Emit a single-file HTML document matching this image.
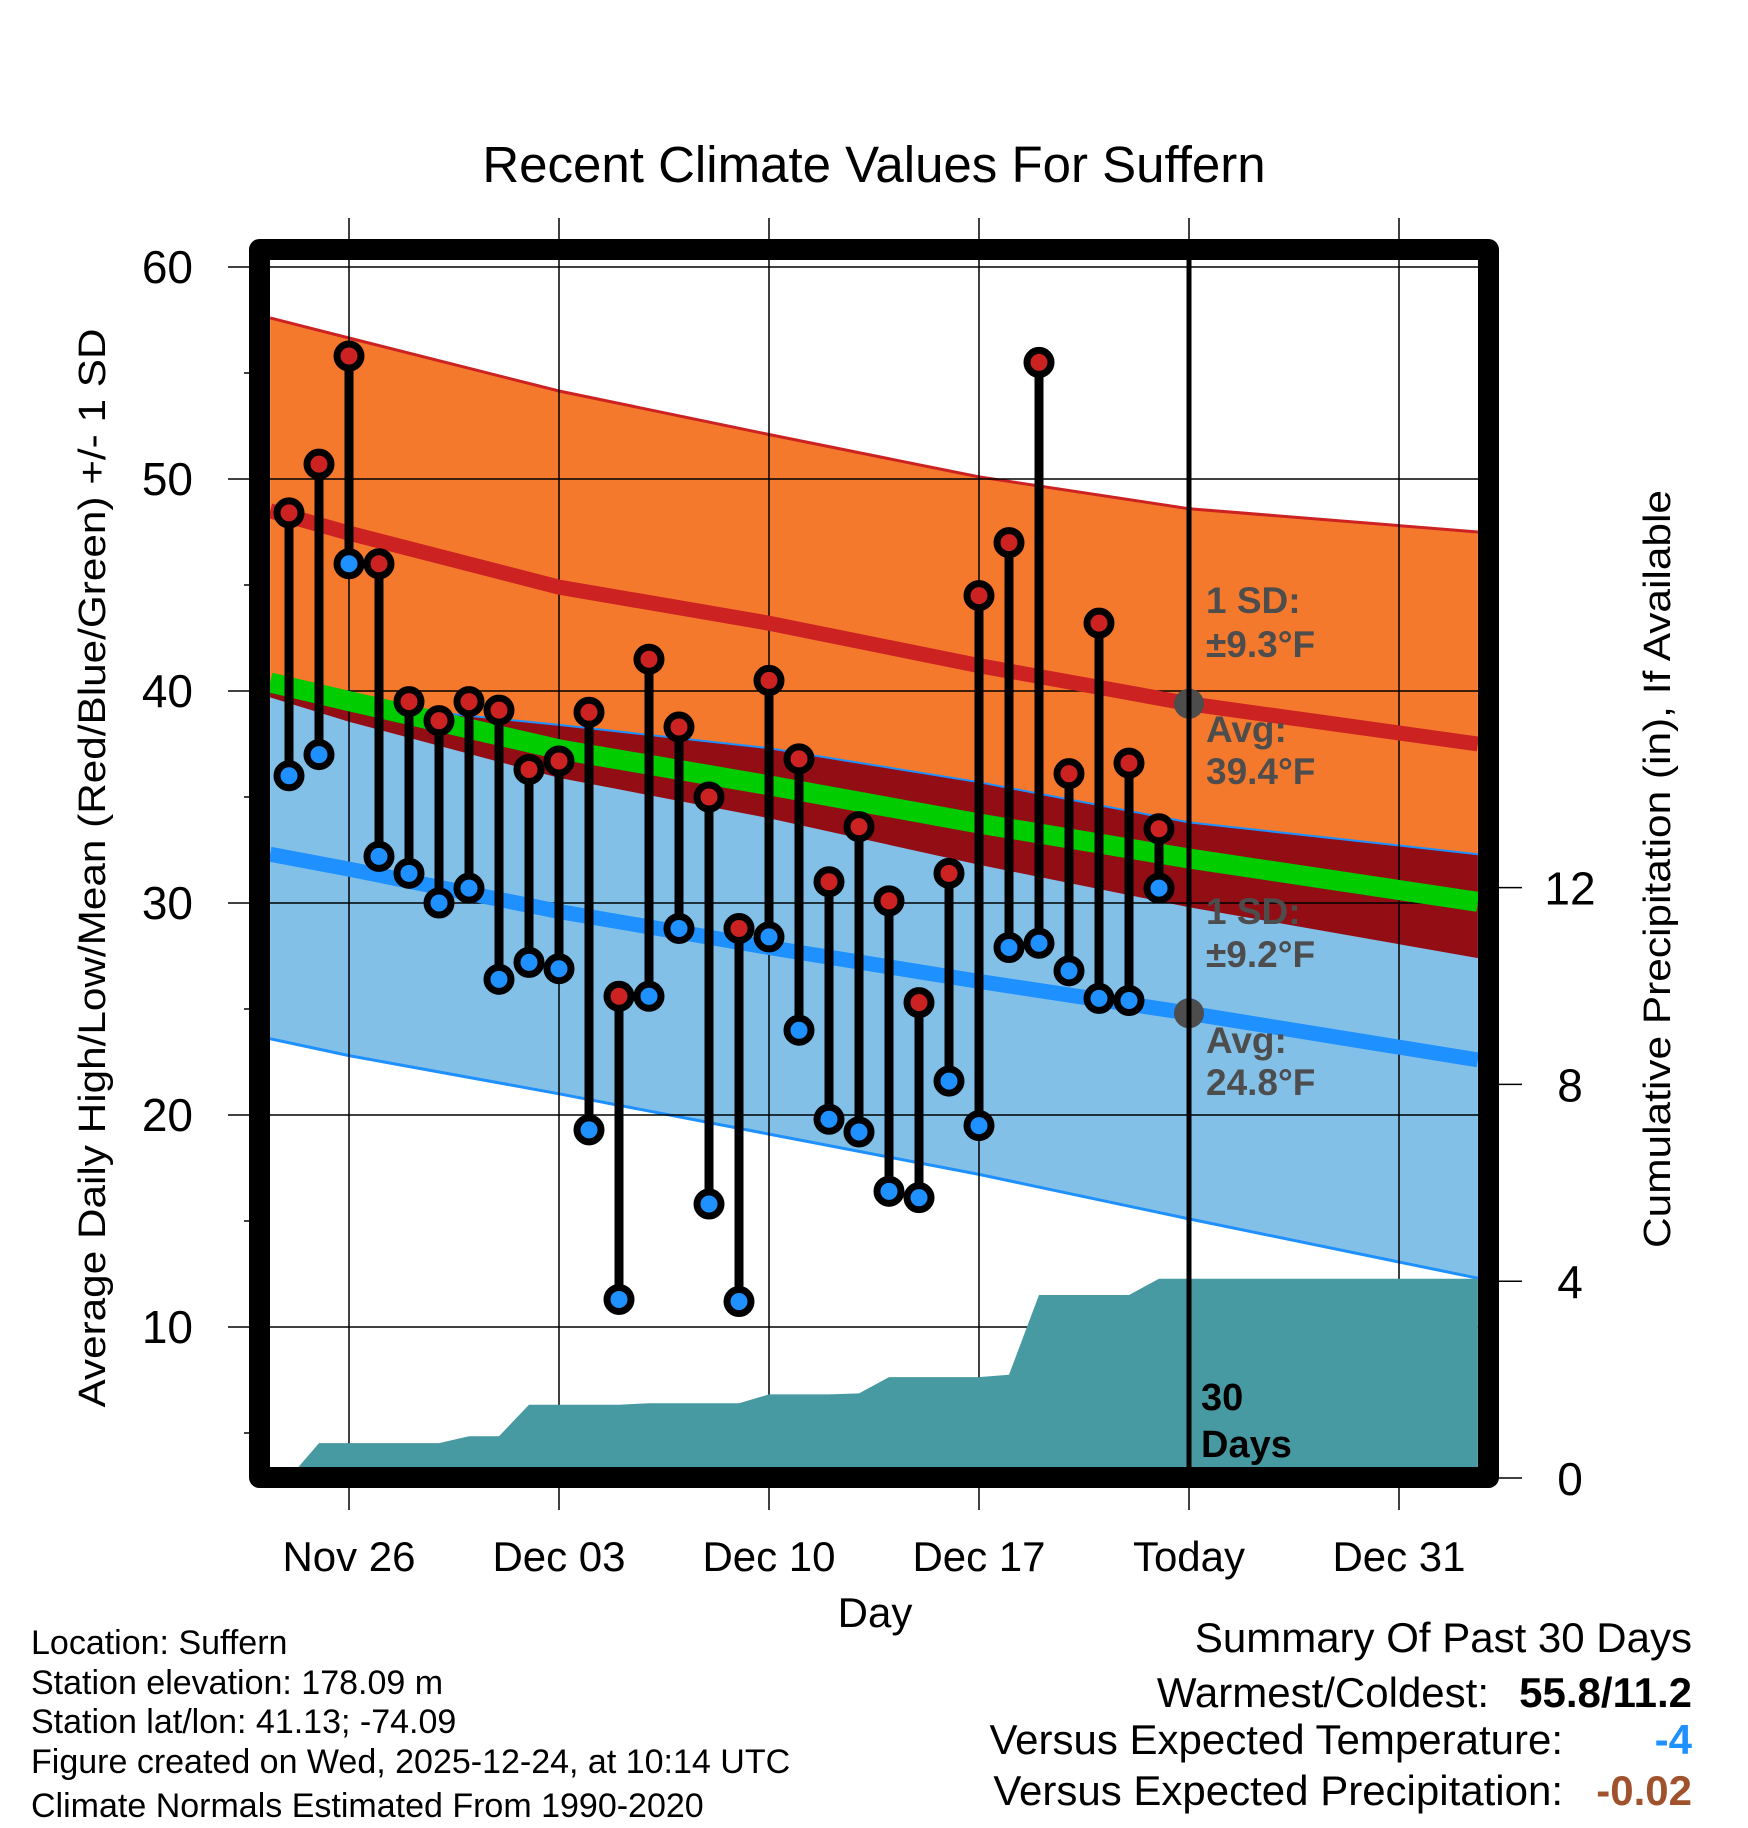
<!DOCTYPE html>
<html><head><meta charset="utf-8"><style>
html,body{margin:0;padding:0;background:#fff}
svg{display:block;font-family:"Liberation Sans",Arial,sans-serif}
</style></head><body>
<svg id="chart" width="1748" height="1828" viewBox="0 0 1748 1828" xmlns="http://www.w3.org/2000/svg">
<defs><clipPath id="plotclip"><rect x="270" y="260" width="1208" height="1208"/></clipPath></defs>
<rect x="0" y="0" width="1748" height="1828" fill="#fff"/>
<text x="874" y="182" font-size="51" text-anchor="middle">Recent Climate Values For Suffern</text>
<g id="bands" clip-path="url(#plotclip)"></g>
<g id="grid"></g>
<g id="precip" clip-path="url(#plotclip)"></g>
<g id="means" clip-path="url(#plotclip)"></g>
<g id="marks"></g>
<g id="annot">
<line x1="1189" y1="250" x2="1189" y2="1470" stroke="#000" stroke-width="5"/>
<g font-weight="bold" fill="#4d4d4d" font-size="37">
<text x="1206" y="613">1 SD:</text>
<text x="1206" y="657">±9.3°F</text>
<text x="1206" y="742">Avg:</text>
<text x="1206" y="784">39.4°F</text>
<text x="1206" y="924">1 SD:</text>
<text x="1206" y="967">±9.2°F</text>
<text x="1206" y="1053">Avg:</text>
<text x="1206" y="1095">24.8°F</text>
</g>
<text x="1201" y="1410" font-size="38" font-weight="bold">30</text>
<text x="1201" y="1457" font-size="38" font-weight="bold">Days</text>
</g>
<rect x="259.5" y="249.5" width="1229" height="1228" fill="none" stroke="#000" stroke-width="21" stroke-linejoin="round"/>
<g id="axes"></g>
<text transform="translate(105,868) rotate(-90)" font-size="38" text-anchor="middle" textLength="1079" lengthAdjust="spacingAndGlyphs">Average Daily High/Low/Mean (Red/Blue/Green) +/- 1 SD</text>
<text transform="translate(1670,869) rotate(-90)" font-size="38" text-anchor="middle" textLength="758" lengthAdjust="spacingAndGlyphs">Cumulative Precipitation (in), If Available</text>
<text x="875" y="1627" font-size="42" text-anchor="middle">Day</text>
<g font-size="34">
<text x="31" y="1654">Location: Suffern</text>
<text x="31" y="1694">Station elevation: 178.09 m</text>
<text x="31" y="1733">Station lat/lon: 41.13; -74.09</text>
<text x="31" y="1773">Figure created on Wed, 2025-12-24, at 10:14 UTC</text>
<text x="31" y="1817">Climate Normals Estimated From 1990-2020</text>
</g>
<g font-size="42">
<text x="1692" y="1652" text-anchor="end">Summary Of Past 30 Days</text>
<text x="1489" y="1707" text-anchor="end">Warmest/Coldest:</text>
<text x="1692" y="1707" text-anchor="end" font-weight="bold">55.8/11.2</text>
<text x="1563" y="1754" text-anchor="end">Versus Expected Temperature:</text>
<text x="1692" y="1754" text-anchor="end" font-weight="bold" fill="#1e90ff">-4</text>
<text x="1563" y="1805" text-anchor="end">Versus Expected Precipitation:</text>
<text x="1692" y="1805" text-anchor="end" font-weight="bold" fill="#a0522d">-0.02</text>
</g>
</svg>
<script>
// Daily data (Nov 24 .. Dec 23)
const highs = [48.4,50.7,55.8,46.0,39.5,38.6,39.5,39.1,36.3,36.7,39.0,25.6,41.5,38.3,35.0,28.8,40.5,36.8,31.0,33.6,30.1,25.3,31.4,44.5,47.0,55.5,36.1,43.2,36.6,33.5];
const lows  = [36.0,37.0,46.0,32.2,31.4,30.0,30.7,26.4,27.2,26.9,19.3,11.3,25.6,28.8,15.8,11.2,28.4,24.0,19.8,19.2,16.4,16.1,21.6,19.5,27.9,28.1,26.8,25.5,25.4,30.7];
const precip = [0,0.71,0.71,0.71,0.71,0.71,0.85,0.85,1.49,1.49,1.49,1.49,1.52,1.52,1.52,1.52,1.7,1.7,1.7,1.72,2.05,2.05,2.05,2.05,2.1,3.72,3.72,3.72,3.72,4.05];
// Normals sampled at day indices (0 = Nov 24)
const normDays = [-0.63,2,9,16,23,30,39.63];
const hiUpper = [57.6,56.65,54.15,52.1,50.1,48.6,47.5];
const hiMean  = [48.5,47.45,44.9,43.2,41.2,39.4,37.5];
const hiLower = [39.7,38.55,35.9,34.0,31.8,29.8,27.4];
const loUpper = [40.0,39.4,38.4,37.3,35.7,33.8,32.3];
const loMean  = [32.3,31.6,29.6,27.9,26.3,24.8,22.6];
const loLower = [23.6,22.8,21.0,19.1,17.2,15.1,12.3];
const xTickDays = [2,9,16,23,30,37];
const xTickLabels = ['Nov 26','Dec 03','Dec 10','Dec 17','Today','Dec 31'];
const yTicks = [10,20,30,40,50,60];
const yMinor = [5,15,25,35,45,55];
const pTicks = [0,4,8,12];
const todayIndex = 30;
const todayHigh = 39.4, todayLow = 24.8;

const NS='http://www.w3.org/2000/svg';
const xS = d => 289 + 30*d;
const yS = v => 267 + (60-v)*21.2;
const pS = p => 1478 - p*49.2;
function mk(tag, attrs, parent){const e=document.createElementNS(NS,tag);for(const k in attrs)e.setAttribute(k,attrs[k]);parent.appendChild(e);return e;}
function line(arr){return normDays.map((d,i)=>xS(d).toFixed(1)+','+yS(arr[i]).toFixed(1));}
function band(top,bot){return line(top).concat(line(bot).reverse()).join(' ');}

const bands=document.getElementById('bands');
let e;
e=mk('polygon',{points:band(hiUpper,hiLower),fill:'#f5792d'},bands);


e=mk('polygon',{points:band(loUpper,loLower),fill:'#82c0e8'},bands);


e=mk('polygon',{points:band(loUpper,hiLower),fill:'#930d14'},bands);


e=mk('polyline',{points:line(hiUpper).join(' '),fill:'none',stroke:'#cc2222','stroke-width':3},bands);


e=mk('polyline',{points:line(loLower).join(' '),fill:'none',stroke:'#1e90ff','stroke-width':3},bands);


e=mk('polyline',{points:line(loUpper).join(' '),fill:'none',stroke:'#1e90ff','stroke-width':2},bands);



const grid=document.getElementById('grid');
yTicks.forEach(v=>{e=mk('line',{x1:228,x2:1478,y1:yS(v),y2:yS(v),stroke:'#000','stroke-width':1.5},grid);

});
xTickDays.forEach(d=>{e=mk('line',{x1:xS(d),x2:xS(d),y1:218,y2:1510,stroke:'#000','stroke-width':1.5},grid);

});

const pr=document.getElementById('precip');
let pts=precip.map((p,i)=>xS(i)+','+pS(p).toFixed(1));
pts.push(xS(39.63)+','+pS(precip[precip.length-1]).toFixed(1));
pts.push(xS(39.63)+','+pS(0));pts.push(xS(0)+','+pS(0));
e=mk('polygon',{points:pts.join(' '),fill:'#4799a2'},pr);



const means=document.getElementById('means');
e=mk('polyline',{points:line(hiMean).join(' '),fill:'none',stroke:'#cc2222','stroke-width':15},means);


e=mk('polyline',{points:line(loMean).join(' '),fill:'none',stroke:'#1e90ff','stroke-width':15},means);


const avgMean=hiMean.map((h,i)=>(h+loMean[i])/2);
e=mk('polyline',{points:line(avgMean).join(' '),fill:'none',stroke:'#00cc00','stroke-width':20},means);



const marks=document.getElementById('marks');
highs.forEach((h,i)=>{
  const x=xS(i);
  e=mk('line',{x1:x,x2:x,y1:yS(h),y2:yS(lows[i]),stroke:'#000','stroke-width':9},marks);
  
  
});
highs.forEach((h,i)=>{
  const x=xS(i);
  e=mk('circle',{cx:x,cy:yS(h),r:12,fill:'#cc2222',stroke:'#000','stroke-width':7},marks);
  
  
  e=mk('circle',{cx:x,cy:yS(lows[i]),r:12,fill:'#1e90ff',stroke:'#000','stroke-width':7},marks);
  
  
});
e=mk('circle',{cx:xS(todayIndex),cy:yS(todayHigh),r:15,fill:'#4d4d4d'},marks);


e=mk('circle',{cx:xS(todayIndex),cy:yS(todayLow),r:15,fill:'#4d4d4d'},marks);



const axes=document.getElementById('axes');
yTicks.forEach(v=>{
  e=mk('text',{x:193,y:yS(v)+16,'font-size':46,'text-anchor':'end'},axes);
  e.textContent=String(v);
  
  
});
yMinor.forEach(v=>{
  e=mk('line',{x1:244,x2:250,y1:yS(v),y2:yS(v),stroke:'#000','stroke-width':1.5},axes);
  
  
});
xTickDays.forEach((d,i)=>{
  e=mk('text',{x:xS(d),y:1571,'font-size':42,'text-anchor':'middle'},axes);
  e.textContent=xTickLabels[i];
  
  
});
pTicks.forEach(p=>{
  e=mk('line',{x1:1499,x2:1522,y1:pS(p),y2:pS(p),stroke:'#000','stroke-width':1.5},axes);
  
  
  e=mk('text',{x:1570,y:pS(p)+17,'font-size':46,'text-anchor':'middle'},axes);
  e.textContent=String(p);
  
  
});
</script>
</body></html>
